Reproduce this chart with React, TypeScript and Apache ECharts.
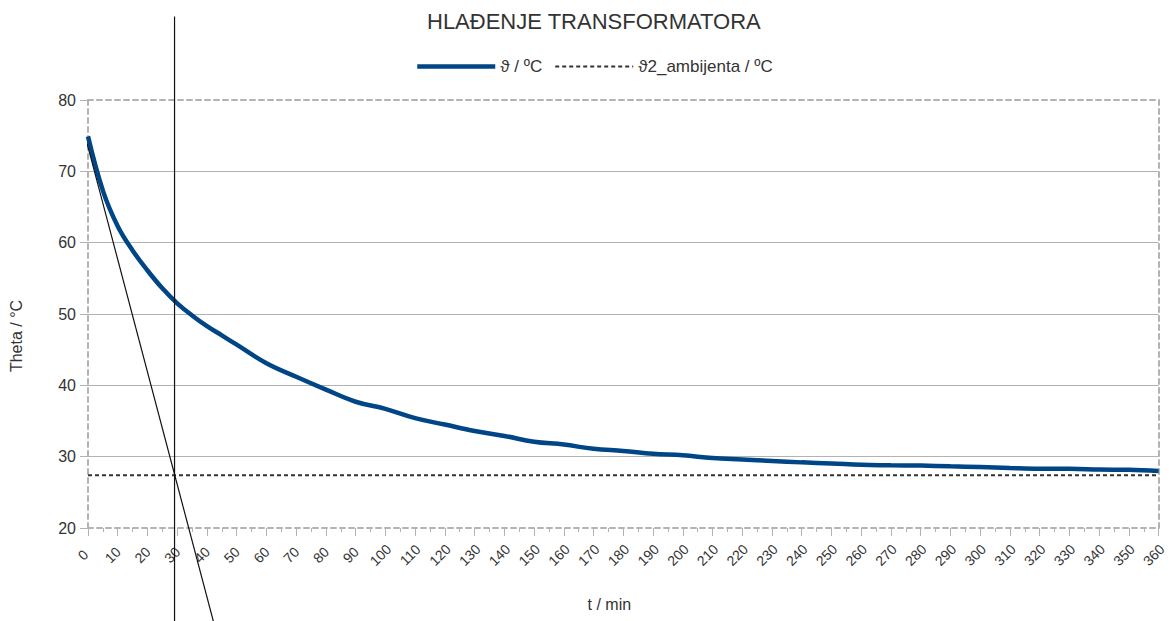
import React, { useEffect, useRef } from "react";
import * as echarts from "echarts";

const title = "HLAĐENJE TRANSFORMATORA";
const seriesName = "ϑ / ºC";
const ambientName = "ϑ2_ambijenta / ºC";
const xName = "t / min";
const yName = "Theta / °C";

const timeMin = [0, 5, 10, 15, 20, 25, 30, 35, 40, 45, 50, 60, 70, 80, 90, 100, 110, 120, 130, 140, 150, 160, 170, 180, 190, 200, 210, 220, 230, 240, 250, 260, 270, 280, 290, 300, 310, 320, 330, 340, 350, 360];
const theta = [74.9, 67.3, 62.3, 58.9, 56.1, 53.6, 51.5, 49.8, 48.3, 47.0, 45.7, 43.1, 41.2, 39.4, 37.7, 36.7, 35.4, 34.5, 33.6, 32.9, 32.1, 31.7, 31.1, 30.8, 30.4, 30.2, 29.8, 29.6, 29.4, 29.2, 29.05, 28.85, 28.8, 28.75, 28.65, 28.55, 28.4, 28.3, 28.3, 28.2, 28.15, 28.0];
const ambientX = [0, 360];
const ambientY = [27.4, 27.4];
const tangentX = [-10.9, 42.3];
const tangentY = [90.6, 6.7];
const tauX = [29.1, 29.1];
const tauY = [91.7, 5.0];

const zip = (xs: number[], ys: number[]) => xs.map((x, i) => [x, ys[i]]);

export default function App() {
  const ref = useRef<HTMLDivElement>(null);
  useEffect(() => {
    document.body.style.margin = "0";
    const chart = echarts.init(ref.current!, null, { renderer: "svg" });
    const font = "'Liberation Sans', Arial, sans-serif";
    const border = { show: true, onZero: false, lineStyle: { color: "#b3b3b3", width: 2, type: [5, 4] } };
    chart.setOption({
      animation: false,
      textStyle: { fontFamily: font },
      title: {
        text: title,
        left: 422,
        top: 5,
        textStyle: { fontSize: 22, fontWeight: "normal", color: "#333", fontFamily: font },
      },
      legend: {
        data: [
          { name: seriesName, itemStyle: { opacity: 0 }, lineStyle: { width: 4.5, color: "#004586" } },
          { name: ambientName, itemStyle: { opacity: 0 }, lineStyle: { width: 2, color: "#333", type: [4, 3] } },
        ],
        top: 53,
        left: 410,
        itemWidth: 78,
        itemHeight: 12,
        itemGap: 12,
        textStyle: { fontSize: 17, color: "#333", fontFamily: font },
      },
      grid: { left: 88, right: 4, top: 100, bottom: 93, containLabel: false },
      xAxis: [
        {
          type: "value",
          min: 0,
          max: 360,
          interval: 10,
          name: xName,
          nameLocation: "middle",
          nameGap: 68,
          nameTextStyle: { fontSize: 16, color: "#333", padding: [0, 28, 0, 0] },
          axisLine: border,
          axisTick: { show: true, length: 8, lineStyle: { color: "#b3b3b3", width: 1 } },
          minorTick: { show: true, splitNumber: 2, length: 4, lineStyle: { color: "#b3b3b3" } },
          splitLine: { show: false },
          axisLabel: {
            rotate: 45,
            align: "center",
            verticalAlign: "middle",
            margin: 22,
            padding: [0, 14, 0, 0],
            fontSize: 14,
            color: "#333",
          },
        },
        {
          type: "value",
          position: "top",
          min: 0,
          max: 360,
          axisLine: border,
          axisTick: { show: false },
          axisLabel: { show: false },
          splitLine: { show: false },
        },
      ],
      yAxis: [
        {
          type: "value",
          min: 20,
          max: 80,
          interval: 10,
          name: yName,
          nameLocation: "middle",
          nameGap: 64,
          nameRotate: 90,
          nameTextStyle: { fontSize: 16, color: "#333", padding: [0, 44, 0, 0] },
          axisLine: border,
          axisTick: { show: true, length: 8, lineStyle: { color: "#b3b3b3" } },
          axisLabel: { fontSize: 16, color: "#333", margin: 12 },
          splitLine: { show: true, showMinLine: false, showMaxLine: false, lineStyle: { color: "#b3b3b3", width: 1 } },
        },
        {
          type: "value",
          position: "right",
          min: 20,
          max: 80,
          axisLine: border,
          axisTick: { show: false },
          axisLabel: { show: false },
          splitLine: { show: false },
        },
      ],
      series: [
        {
          name: seriesName,
          type: "line",
          data: zip(timeMin, theta),
          smooth: 0.4,
          showSymbol: false,
          symbol: "none",
          lineStyle: { color: "#004586", width: 4.5 },
          itemStyle: { color: "#004586" },
          z: 5,
        },
        {
          name: ambientName,
          type: "line",
          data: zip(ambientX, ambientY),
          showSymbol: false,
          symbol: "none",
          lineStyle: { color: "#333", width: 2, type: [4, 3] },
          itemStyle: { color: "#333" },
          z: 4,
        },
        {
          name: "tangenta",
          type: "line",
          data: zip(tangentX, tangentY),
          clip: false,
          showSymbol: false,
          symbol: "none",
          lineStyle: { color: "#111", width: 1.2 },
          silent: true,
          z: 6,
        },
        {
          name: "tau",
          type: "line",
          data: zip(tauX, tauY),
          clip: false,
          showSymbol: false,
          symbol: "none",
          lineStyle: { color: "#111", width: 1.2 },
          silent: true,
          z: 6,
        },
      ],
    });
    return () => chart.dispose();
  }, []);
  return <div ref={ref} style={{ width: 1169, height: 621 }} />;
}
